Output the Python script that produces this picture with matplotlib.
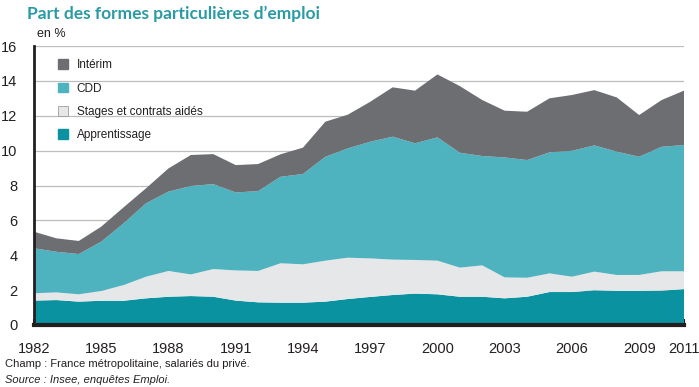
import matplotlib.pyplot as plt
from matplotlib.patches import Patch

years = list(range(1982, 2012))
apprentissage = [1.40, 1.43, 1.34, 1.39, 1.39, 1.53, 1.62, 1.66, 1.62, 1.40,
                 1.30, 1.28, 1.28, 1.34, 1.49, 1.61, 1.72, 1.80, 1.76, 1.62,
                 1.62, 1.53, 1.62, 1.89, 1.89, 1.99, 1.95, 1.95, 1.97, 2.06]
stages = [0.42, 0.44, 0.42, 0.56, 0.90, 1.24, 1.48, 1.24, 1.59, 1.73,
          1.80, 2.26, 2.20, 2.35, 2.37, 2.21, 2.03, 1.93, 1.93, 1.67,
          1.80, 1.20, 1.09, 1.07, 0.88, 1.07, 0.92, 0.92, 1.11, 1.02]
cdd = [2.58, 2.33, 2.31, 2.83, 3.54, 4.21, 4.55, 5.07, 4.87, 4.47,
       4.58, 4.96, 5.18, 5.96, 6.27, 6.69, 7.05, 6.69, 7.07, 6.59,
       6.27, 6.88, 6.75, 6.94, 7.22, 7.24, 7.07, 6.78, 7.14, 7.24]
interim = [0.95, 0.77, 0.75, 0.86, 0.92, 0.86, 1.33, 1.78, 1.72, 1.57,
           1.55, 1.29, 1.51, 2.01, 1.93, 2.29, 2.83, 3.02, 3.61, 3.82,
           3.21, 2.68, 2.77, 3.10, 3.20, 3.17, 3.11, 2.39, 2.68, 3.12]
xticks = [1982, 1985, 1988, 1991, 1994, 1997, 2000, 2003, 2006, 2009, 2011]

plt.rcParams['font.family'] = ['Liberation Sans', 'DejaVu Sans']

c_app = '#0a92a0'
c_stg = '#e6e7e8'
c_cdd = '#4fb2bf'
c_int = '#6d6e71'
dark = '#231f20'

fig = plt.figure(figsize=(6.99, 3.87), dpi=100)
ax = fig.add_axes([34/699, 1-325/387, 650/699, 279/387])

ax.stackplot(years, apprentissage, stages, cdd, interim,
             colors=[c_app, c_stg, c_cdd, c_int], linewidth=0, zorder=2)

ax.set_xlim(1982, 2011)
ax.set_ylim(0, 16)
ax.set_yticks(range(0, 17, 2))
ax.set_xticks(xticks)
for y in range(2, 17, 2):
    ax.axhline(y, color='#bdbdbd', lw=0.9, zorder=1)

for s in ['top', 'right']:
    ax.spines[s].set_visible(False)
ax.spines['left'].set_color(dark)
ax.spines['left'].set_linewidth(2)
ax.spines['bottom'].set_color(dark)
ax.spines['bottom'].set_linewidth(3)
ax.spines['bottom'].set_zorder(5)

ax.tick_params(axis='y', length=0, pad=12, labelsize=10.5, labelcolor=dark)
ax.tick_params(axis='x', direction='in', length=4, width=1.5, color=dark,
               pad=12, labelsize=10.5, labelcolor=dark)

handles = [Patch(facecolor=c_int, edgecolor=c_int),
           Patch(facecolor=c_cdd, edgecolor=c_cdd),
           Patch(facecolor=c_stg, edgecolor='#9d9d9d', lw=0.6),
           Patch(facecolor=c_app, edgecolor=c_app)]
labels = ['Intérim', 'CDD', 'Stages et contrats aidés', 'Apprentissage']
leg = ax.legend(handles, labels, loc='upper left', bbox_to_anchor=(0.02, 0.99),
                frameon=False, fontsize=8.5, handlelength=0.9, handleheight=0.9,
                labelspacing=0.95, handletextpad=0.7)
for t in leg.get_texts():
    t.set_color(dark)

fig.text(27/699, 1-14/387, 'Part des formes particulières d\u2019emploi',
         fontsize=12.5, fontweight='bold', color='#2a9aa5', va='center',
         family=['Lato', 'DejaVu Sans'])
fig.text(37/699, 1-34/387, 'en %', fontsize=9, color=dark, va='center')
fig.text(5/699, 1-364/387, 'Champ : France métropolitaine, salariés du privé.',
         fontsize=8, color=dark, va='center')
fig.text(5/699, 1-380/387, 'Source : Insee, enquêtes Emploi.',
         fontsize=8, color=dark, va='center', style='italic')

fig.savefig('out.png', dpi=100)
